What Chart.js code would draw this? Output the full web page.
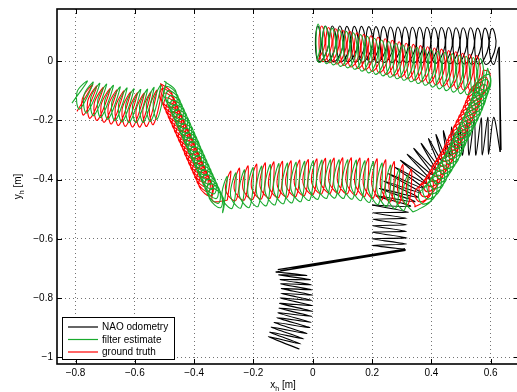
<!DOCTYPE html>
<html>
<head>
<meta charset="utf-8">
<script src="https://cdn.jsdelivr.net/npm/chart.js@4.4.1/dist/chart.umd.min.js"></script>
<style>
  html, body { margin: 0; padding: 0; background: #fff; overflow: hidden; }
  #plot { display: block; }
</style>
</head>
<body>
<canvas id="plot" width="524" height="392" style="width:524px;height:392px"></canvas>
<script>
// axis ticks
const xTicks = [-0.8, -0.6, -0.4, -0.2, 0, 0.2, 0.4, 0.6];
const yTicks = [0, -0.2, -0.4, -0.6, -0.8, -1];
const seriesNames = ['NAO odometry', 'filter estimate', 'ground truth'];
const seriesColors = ['#000000', 'rgb(25,170,45)', 'rgb(255,0,0)'];

// NAO odometry, flat x,y lists per stretch of the walk
const odoBottom = [
  -0.045,-0.972, -0.150,-0.930, -0.040,-0.955, -0.145,-0.915, -0.030,-0.938, -0.140,-0.898,
  -0.020,-0.920, -0.130,-0.882, -0.010,-0.900, -0.122,-0.866, -0.005,-0.882, -0.118,-0.850,
  -0.003,-0.862, -0.115,-0.834, 0.000,-0.845, -0.112,-0.818, 0.000,-0.826, -0.110,-0.800,
  -0.002,-0.808, -0.108,-0.784, 0.000,-0.790, -0.106,-0.768, -0.003,-0.772, -0.108,-0.752,
  -0.005,-0.755, -0.110,-0.738, -0.008,-0.738, -0.115,-0.722, -0.020,-0.724, -0.125,-0.712
];
const odoDrift = [
  -0.125,-0.712, 0.313,-0.639, -0.118,-0.704, 0.311,-0.635, -0.110,-0.708, 0.312,-0.636
];
const odoStep = [
  0.312,-0.636, 0.200,-0.622, 0.316,-0.618, 0.200,-0.600, 0.318,-0.597, 0.201,-0.578,
  0.316,-0.575, 0.202,-0.556, 0.318,-0.553, 0.202,-0.534, 0.318,-0.531, 0.203,-0.512,
  0.322,-0.510, 0.200,-0.486
];
const odoArc = [
  0.200,-0.486, 0.330,-0.490, 0.213,-0.455, 0.345,-0.475, 0.225,-0.430, 0.355,-0.460,
  0.240,-0.405, 0.365,-0.445, 0.255,-0.380, 0.375,-0.430, 0.275,-0.357, 0.385,-0.415,
  0.295,-0.335, 0.395,-0.400, 0.318,-0.315, 0.405,-0.385, 0.340,-0.295, 0.415,-0.370,
  0.365,-0.278, 0.425,-0.355, 0.390,-0.262, 0.437,-0.340, 0.415,-0.248, 0.450,-0.327,
  0.440,-0.235, 0.465,-0.320, 0.468,-0.222, 0.485,-0.318, 0.495,-0.212, 0.505,-0.318,
  0.520,-0.203, 0.527,-0.318, 0.545,-0.197, 0.550,-0.318, 0.568,-0.192, 0.572,-0.317,
  0.590,-0.190, 0.593,-0.315, 0.610,-0.190, 0.632,-0.307
];
const odoSide = [
  0.632,-0.307, 0.629,0.048, 0.635,-0.300, 0.627,0.045
];
const odoTop = [
  0.627,0.045,
  0.609,-0.012, 0.595,0.050, 0.605,0.110, 0.617,0.050,
  0.585,-0.012, 0.571,0.050, 0.581,0.111, 0.593,0.050,
  0.560,-0.011, 0.546,0.050, 0.556,0.111, 0.568,0.050,
  0.536,-0.011, 0.522,0.050, 0.532,0.112, 0.544,0.050,
  0.511,-0.010, 0.497,0.051, 0.507,0.112, 0.519,0.051,
  0.487,-0.010, 0.473,0.051, 0.483,0.112, 0.495,0.051,
  0.462,-0.009, 0.448,0.051, 0.458,0.113, 0.470,0.051,
  0.438,-0.009, 0.424,0.052, 0.434,0.113, 0.446,0.052,
  0.413,-0.008, 0.399,0.052, 0.409,0.113, 0.421,0.052,
  0.389,-0.008, 0.375,0.052, 0.385,0.114, 0.397,0.052,
  0.364,-0.007, 0.350,0.053, 0.360,0.114, 0.372,0.053,
  0.340,-0.007, 0.326,0.053, 0.336,0.114, 0.348,0.053,
  0.315,-0.006, 0.301,0.053, 0.311,0.115, 0.323,0.053,
  0.291,-0.006, 0.277,0.054, 0.287,0.115, 0.299,0.054,
  0.266,-0.005, 0.252,0.054, 0.262,0.115, 0.274,0.054,
  0.242,-0.005, 0.228,0.054, 0.238,0.116, 0.250,0.054,
  0.217,-0.005, 0.203,0.055, 0.213,0.116, 0.225,0.055,
  0.193,-0.004, 0.179,0.055, 0.189,0.116, 0.201,0.055,
  0.168,-0.004, 0.154,0.055, 0.164,0.117, 0.176,0.055,
  0.144,-0.004, 0.130,0.056, 0.140,0.117, 0.152,0.056,
  0.119,-0.003, 0.105,0.056, 0.115,0.117, 0.127,0.056,
  0.095,-0.003, 0.081,0.056, 0.091,0.118, 0.103,0.056,
  0.070,-0.003, 0.056,0.057, 0.066,0.118, 0.078,0.057,
  0.046,-0.003, 0.032,0.057, 0.042,0.118, 0.054,0.057,
  0.021,-0.003, 0.009,0.057, 0.017,0.118, 0.028,0.057,
  0.020,-0.002
];

// filter estimate
const estLeft = [
  -0.812,-0.142, -0.760,-0.068, -0.795,-0.105,
  -0.786,-0.162, -0.740,-0.072, -0.772,-0.117,
  -0.762,-0.175, -0.718,-0.076, -0.749,-0.126,
  -0.738,-0.184, -0.695,-0.079, -0.725,-0.132,
  -0.714,-0.190, -0.672,-0.083, -0.702,-0.137,
  -0.690,-0.196, -0.649,-0.088, -0.678,-0.142,
  -0.666,-0.201, -0.626,-0.092, -0.655,-0.147,
  -0.642,-0.205, -0.603,-0.095, -0.631,-0.150,
  -0.618,-0.207, -0.580,-0.097, -0.608,-0.152,
  -0.594,-0.207, -0.557,-0.096, -0.584,-0.152,
  -0.570,-0.206, -0.535,-0.090, -0.561,-0.148,
  -0.546,-0.203, -0.512,-0.082, -0.538,-0.142,
  -0.524,-0.196, -0.494,-0.072
];
const estDiagL = [
  -0.494,-0.072,
  -0.500,-0.069, -0.462,-0.101, -0.464,-0.151, -0.502,-0.119,
  -0.493,-0.085, -0.455,-0.117, -0.457,-0.167, -0.495,-0.135,
  -0.486,-0.100, -0.448,-0.132, -0.450,-0.182, -0.488,-0.150,
  -0.479,-0.116, -0.441,-0.148, -0.443,-0.198, -0.481,-0.166,
  -0.472,-0.132, -0.434,-0.164, -0.436,-0.214, -0.474,-0.182,
  -0.465,-0.147, -0.427,-0.179, -0.429,-0.229, -0.467,-0.197,
  -0.458,-0.163, -0.420,-0.195, -0.422,-0.245, -0.460,-0.213,
  -0.451,-0.179, -0.413,-0.211, -0.415,-0.261, -0.453,-0.229,
  -0.444,-0.194, -0.406,-0.226, -0.408,-0.276, -0.446,-0.244,
  -0.437,-0.210, -0.399,-0.242, -0.401,-0.292, -0.439,-0.260,
  -0.430,-0.226, -0.392,-0.258, -0.394,-0.308, -0.432,-0.276,
  -0.423,-0.241, -0.385,-0.273, -0.387,-0.323, -0.425,-0.291,
  -0.417,-0.257, -0.379,-0.289, -0.381,-0.339, -0.419,-0.307,
  -0.410,-0.272, -0.372,-0.304, -0.374,-0.354, -0.412,-0.322,
  -0.403,-0.288, -0.365,-0.320, -0.367,-0.370, -0.405,-0.338,
  -0.396,-0.304, -0.358,-0.336, -0.360,-0.386, -0.398,-0.354,
  -0.389,-0.319, -0.351,-0.351, -0.353,-0.401, -0.391,-0.369,
  -0.382,-0.335, -0.344,-0.367, -0.346,-0.417, -0.384,-0.385,
  -0.375,-0.351, -0.337,-0.383, -0.339,-0.433, -0.377,-0.401,
  -0.368,-0.366, -0.330,-0.398, -0.332,-0.448, -0.370,-0.416,
  -0.361,-0.382, -0.323,-0.414, -0.325,-0.464, -0.363,-0.432,
  -0.354,-0.398, -0.316,-0.430, -0.318,-0.480, -0.356,-0.448,
  -0.347,-0.413, -0.309,-0.445, -0.311,-0.495, -0.349,-0.463,
  -0.340,-0.429, -0.302,-0.461, -0.304,-0.511,
  -0.300,-0.497
];
const estMid = [
  -0.300,-0.497, -0.288,-0.390, -0.306,-0.460,
  -0.271,-0.496, -0.259,-0.378, -0.277,-0.455,
  -0.242,-0.495, -0.230,-0.368, -0.248,-0.451,
  -0.213,-0.493, -0.201,-0.360, -0.219,-0.447,
  -0.184,-0.490, -0.172,-0.355, -0.190,-0.443,
  -0.155,-0.487, -0.143,-0.350, -0.161,-0.439,
  -0.126,-0.484, -0.114,-0.347, -0.132,-0.436,
  -0.097,-0.480, -0.085,-0.345, -0.103,-0.433,
  -0.068,-0.477, -0.056,-0.342, -0.074,-0.430,
  -0.039,-0.473, -0.027,-0.339, -0.045,-0.426,
  -0.010,-0.469, 0.002,-0.337, -0.016,-0.423,
  0.019,-0.465, 0.031,-0.335, 0.013,-0.420,
  0.048,-0.462, 0.060,-0.334, 0.042,-0.417,
  0.077,-0.461, 0.089,-0.334, 0.071,-0.417,
  0.106,-0.462, 0.118,-0.334, 0.100,-0.417,
  0.135,-0.465, 0.147,-0.335, 0.129,-0.420,
  0.164,-0.470, 0.176,-0.337, 0.158,-0.423,
  0.193,-0.476, 0.205,-0.340, 0.187,-0.428,
  0.222,-0.483, 0.234,-0.345, 0.216,-0.435,
  0.251,-0.490, 0.263,-0.352, 0.245,-0.442,
  0.280,-0.497, 0.292,-0.365, 0.274,-0.451,
  0.309,-0.503, 0.321,-0.385, 0.303,-0.462,
  0.338,-0.510
];
const estDiagR = [
  0.338,-0.510,
  0.358,-0.500, 0.399,-0.471, 0.398,-0.420, 0.357,-0.449,
  0.373,-0.483, 0.414,-0.454, 0.413,-0.403, 0.372,-0.432,
  0.387,-0.466, 0.428,-0.437, 0.427,-0.386, 0.386,-0.415,
  0.398,-0.449, 0.439,-0.420, 0.438,-0.369, 0.397,-0.398,
  0.408,-0.432, 0.449,-0.403, 0.448,-0.352, 0.407,-0.381,
  0.417,-0.415, 0.458,-0.386, 0.457,-0.335, 0.416,-0.364,
  0.428,-0.398, 0.469,-0.369, 0.468,-0.318, 0.427,-0.347,
  0.438,-0.381, 0.479,-0.352, 0.478,-0.301, 0.437,-0.330,
  0.449,-0.364, 0.490,-0.335, 0.489,-0.284, 0.448,-0.313,
  0.458,-0.347, 0.499,-0.318, 0.498,-0.267, 0.457,-0.296,
  0.465,-0.330, 0.506,-0.301, 0.505,-0.250, 0.464,-0.279,
  0.473,-0.313, 0.514,-0.284, 0.513,-0.233, 0.472,-0.262,
  0.481,-0.296, 0.522,-0.267, 0.521,-0.216, 0.480,-0.245,
  0.490,-0.279, 0.531,-0.250, 0.530,-0.199, 0.489,-0.228,
  0.498,-0.262, 0.539,-0.233, 0.538,-0.182, 0.497,-0.211,
  0.507,-0.245, 0.548,-0.216, 0.547,-0.165, 0.506,-0.194,
  0.515,-0.228, 0.556,-0.199, 0.555,-0.148, 0.514,-0.177,
  0.523,-0.211, 0.564,-0.182, 0.563,-0.131, 0.522,-0.160,
  0.530,-0.194, 0.571,-0.165, 0.570,-0.114, 0.529,-0.143,
  0.537,-0.177, 0.578,-0.148, 0.577,-0.097, 0.536,-0.126,
  0.542,-0.160, 0.583,-0.131, 0.582,-0.080, 0.541,-0.109,
  0.548,-0.143, 0.589,-0.114, 0.588,-0.063, 0.547,-0.092,
  0.554,-0.126, 0.595,-0.097, 0.594,-0.046, 0.553,-0.075,
  0.557,-0.110, 0.598,-0.081, 0.590,-0.025,
  0.588,-0.030
];
const estTop = [
  0.588,-0.030,
  0.569,-0.120, 0.556,-0.056, 0.565,0.008, 0.576,-0.056,
  0.545,-0.118, 0.532,-0.053, 0.541,0.012, 0.552,-0.053,
  0.521,-0.114, 0.508,-0.049, 0.517,0.016, 0.528,-0.049,
  0.498,-0.110, 0.485,-0.045, 0.494,0.020, 0.505,-0.045,
  0.474,-0.105, 0.461,-0.040, 0.470,0.025, 0.481,-0.040,
  0.450,-0.100, 0.437,-0.035, 0.446,0.030, 0.457,-0.035,
  0.426,-0.094, 0.413,-0.030, 0.422,0.034, 0.433,-0.030,
  0.403,-0.088, 0.390,-0.025, 0.399,0.038, 0.410,-0.025,
  0.379,-0.082, 0.366,-0.020, 0.375,0.042, 0.386,-0.020,
  0.355,-0.076, 0.342,-0.015, 0.351,0.046, 0.362,-0.015,
  0.331,-0.070, 0.318,-0.010, 0.327,0.050, 0.338,-0.010,
  0.307,-0.065, 0.294,-0.005, 0.303,0.055, 0.314,-0.005,
  0.284,-0.060, 0.271,0.000, 0.280,0.060, 0.291,0.000,
  0.260,-0.055, 0.247,0.006, 0.256,0.066, 0.267,0.006,
  0.236,-0.050, 0.223,0.011, 0.232,0.071, 0.243,0.011,
  0.212,-0.045, 0.199,0.016, 0.208,0.077, 0.219,0.016,
  0.188,-0.040, 0.175,0.022, 0.184,0.083, 0.195,0.022,
  0.165,-0.034, 0.152,0.028, 0.161,0.089, 0.172,0.028,
  0.141,-0.028, 0.128,0.034, 0.137,0.095, 0.148,0.034,
  0.117,-0.023, 0.104,0.039, 0.113,0.100, 0.124,0.039,
  0.093,-0.018, 0.080,0.044, 0.089,0.106, 0.100,0.044,
  0.069,-0.013, 0.056,0.049, 0.065,0.111, 0.076,0.049,
  0.046,-0.009, 0.033,0.054, 0.042,0.117, 0.053,0.054,
  0.022,-0.005, 0.011,0.060, 0.018,0.125, 0.027,0.060,
  0.014,0.000
];

// ground truth
const gtLeft = [
  -0.795,-0.170, -0.742,-0.080, -0.777,-0.128,
  -0.772,-0.182, -0.728,-0.085, -0.759,-0.136,
  -0.750,-0.193, -0.706,-0.090, -0.737,-0.144,
  -0.726,-0.200, -0.683,-0.094, -0.714,-0.150,
  -0.702,-0.206, -0.660,-0.098, -0.690,-0.155,
  -0.678,-0.212, -0.637,-0.102, -0.666,-0.160,
  -0.654,-0.217, -0.614,-0.106, -0.643,-0.164,
  -0.630,-0.220, -0.591,-0.108, -0.619,-0.167,
  -0.606,-0.222, -0.568,-0.109, -0.596,-0.168,
  -0.582,-0.222, -0.546,-0.106, -0.573,-0.167,
  -0.559,-0.220, -0.525,-0.099, -0.551,-0.162,
  -0.537,-0.214, -0.505,-0.090
];
const gtDiagL = [
  -0.505,-0.090,
  -0.513,-0.077, -0.475,-0.109, -0.477,-0.159, -0.515,-0.127,
  -0.506,-0.093, -0.468,-0.125, -0.470,-0.175, -0.508,-0.143,
  -0.499,-0.108, -0.461,-0.140, -0.463,-0.190, -0.501,-0.158,
  -0.492,-0.124, -0.454,-0.156, -0.456,-0.206, -0.494,-0.174,
  -0.485,-0.140, -0.447,-0.172, -0.449,-0.222, -0.487,-0.190,
  -0.478,-0.155, -0.440,-0.187, -0.442,-0.237, -0.480,-0.205,
  -0.471,-0.171, -0.433,-0.203, -0.435,-0.253, -0.473,-0.221,
  -0.464,-0.187, -0.426,-0.219, -0.428,-0.269, -0.466,-0.237,
  -0.457,-0.202, -0.419,-0.234, -0.421,-0.284, -0.459,-0.252,
  -0.450,-0.218, -0.412,-0.250, -0.414,-0.300, -0.452,-0.268,
  -0.443,-0.234, -0.405,-0.266, -0.407,-0.316, -0.445,-0.284,
  -0.436,-0.249, -0.398,-0.281, -0.400,-0.331, -0.438,-0.299,
  -0.430,-0.265, -0.392,-0.297, -0.394,-0.347, -0.432,-0.315,
  -0.423,-0.280, -0.385,-0.312, -0.387,-0.362, -0.425,-0.330,
  -0.416,-0.296, -0.378,-0.328, -0.380,-0.378, -0.418,-0.346,
  -0.409,-0.312, -0.371,-0.344, -0.373,-0.394, -0.411,-0.362,
  -0.402,-0.327, -0.364,-0.359, -0.366,-0.409, -0.404,-0.377,
  -0.395,-0.343, -0.357,-0.375, -0.359,-0.425, -0.397,-0.393,
  -0.388,-0.359, -0.350,-0.391, -0.352,-0.441, -0.390,-0.409,
  -0.381,-0.374, -0.343,-0.406, -0.345,-0.456, -0.383,-0.424,
  -0.374,-0.390, -0.336,-0.422, -0.338,-0.472,
  -0.288,-0.470
];
const gtMid = [
  -0.288,-0.470, -0.276,-0.372, -0.294,-0.436,
  -0.259,-0.470, -0.247,-0.362, -0.265,-0.432,
  -0.230,-0.468, -0.218,-0.354, -0.236,-0.428,
  -0.201,-0.466, -0.189,-0.348, -0.207,-0.425,
  -0.172,-0.464, -0.160,-0.344, -0.178,-0.422,
  -0.143,-0.462, -0.131,-0.341, -0.149,-0.420,
  -0.114,-0.460, -0.102,-0.339, -0.120,-0.418,
  -0.085,-0.458, -0.073,-0.337, -0.091,-0.416,
  -0.056,-0.456, -0.044,-0.335, -0.062,-0.414,
  -0.027,-0.453, -0.015,-0.333, -0.033,-0.411,
  0.002,-0.450, 0.014,-0.331, -0.004,-0.408,
  0.031,-0.447, 0.043,-0.329, 0.025,-0.406,
  0.060,-0.445, 0.072,-0.328, 0.054,-0.404,
  0.089,-0.445, 0.101,-0.327, 0.083,-0.404,
  0.118,-0.447, 0.130,-0.327, 0.112,-0.405,
  0.147,-0.451, 0.159,-0.328, 0.141,-0.408,
  0.176,-0.456, 0.188,-0.329, 0.170,-0.412,
  0.205,-0.462, 0.217,-0.331, 0.199,-0.416,
  0.234,-0.468, 0.246,-0.334, 0.228,-0.421,
  0.263,-0.474, 0.275,-0.340, 0.257,-0.427,
  0.292,-0.480, 0.304,-0.350, 0.286,-0.434,
  0.321,-0.484, 0.333,-0.365, 0.315,-0.442,
  0.345,-0.485
];
const gtDiagR = [
  0.345,-0.485,
  0.345,-0.492, 0.386,-0.463, 0.385,-0.412, 0.344,-0.441,
  0.360,-0.475, 0.401,-0.446, 0.400,-0.395, 0.359,-0.424,
  0.374,-0.458, 0.415,-0.429, 0.414,-0.378, 0.373,-0.407,
  0.385,-0.441, 0.426,-0.412, 0.425,-0.361, 0.384,-0.390,
  0.395,-0.424, 0.436,-0.395, 0.435,-0.344, 0.394,-0.373,
  0.404,-0.407, 0.445,-0.378, 0.444,-0.327, 0.403,-0.356,
  0.415,-0.390, 0.456,-0.361, 0.455,-0.310, 0.414,-0.339,
  0.425,-0.373, 0.466,-0.344, 0.465,-0.293, 0.424,-0.322,
  0.436,-0.356, 0.477,-0.327, 0.476,-0.276, 0.435,-0.305,
  0.445,-0.339, 0.486,-0.310, 0.485,-0.259, 0.444,-0.288,
  0.452,-0.322, 0.493,-0.293, 0.492,-0.242, 0.451,-0.271,
  0.460,-0.305, 0.501,-0.276, 0.500,-0.225, 0.459,-0.254,
  0.468,-0.288, 0.509,-0.259, 0.508,-0.208, 0.467,-0.237,
  0.477,-0.271, 0.518,-0.242, 0.517,-0.191, 0.476,-0.220,
  0.485,-0.254, 0.526,-0.225, 0.525,-0.174, 0.484,-0.203,
  0.494,-0.237, 0.535,-0.208, 0.534,-0.157, 0.493,-0.186,
  0.502,-0.220, 0.543,-0.191, 0.542,-0.140, 0.501,-0.169,
  0.510,-0.203, 0.551,-0.174, 0.550,-0.123, 0.509,-0.152,
  0.517,-0.186, 0.558,-0.157, 0.557,-0.106, 0.516,-0.135,
  0.524,-0.169, 0.565,-0.140, 0.564,-0.089, 0.523,-0.118,
  0.529,-0.152, 0.570,-0.123, 0.569,-0.072, 0.528,-0.101,
  0.535,-0.135, 0.580,-0.106, 0.585,-0.055, 0.545,-0.084,
  0.550,-0.118, 0.592,-0.090, 0.596,-0.038,
  0.575,-0.030
];
const gtTop = [
  0.575,-0.030,
  0.557,-0.105, 0.544,-0.044, 0.553,0.018, 0.564,-0.044,
  0.533,-0.102, 0.520,-0.040, 0.529,0.022, 0.540,-0.040,
  0.509,-0.098, 0.496,-0.036, 0.505,0.026, 0.516,-0.036,
  0.486,-0.094, 0.473,-0.032, 0.482,0.031, 0.493,-0.032,
  0.462,-0.090, 0.449,-0.028, 0.458,0.035, 0.469,-0.028,
  0.438,-0.085, 0.425,-0.023, 0.434,0.040, 0.445,-0.023,
  0.414,-0.080, 0.401,-0.018, 0.410,0.044, 0.421,-0.018,
  0.391,-0.075, 0.378,-0.014, 0.387,0.048, 0.398,-0.014,
  0.367,-0.070, 0.354,-0.009, 0.363,0.052, 0.374,-0.009,
  0.343,-0.065, 0.330,-0.005, 0.339,0.056, 0.350,-0.005,
  0.319,-0.060, 0.306,0.000, 0.315,0.060, 0.326,0.000,
  0.295,-0.055, 0.282,0.005, 0.291,0.065, 0.302,0.005,
  0.272,-0.050, 0.259,0.010, 0.268,0.070, 0.279,0.010,
  0.248,-0.045, 0.235,0.015, 0.244,0.075, 0.255,0.015,
  0.224,-0.040, 0.211,0.020, 0.220,0.080, 0.231,0.020,
  0.200,-0.035, 0.187,0.025, 0.196,0.085, 0.207,0.025,
  0.176,-0.030, 0.163,0.030, 0.172,0.090, 0.183,0.030,
  0.153,-0.025, 0.140,0.035, 0.149,0.095, 0.160,0.035,
  0.129,-0.020, 0.116,0.040, 0.125,0.100, 0.136,0.040,
  0.105,-0.015, 0.092,0.045, 0.101,0.104, 0.112,0.045,
  0.081,-0.010, 0.068,0.050, 0.077,0.109, 0.088,0.050,
  0.057,-0.006, 0.044,0.054, 0.053,0.113, 0.064,0.054,
  0.034,-0.002, 0.021,0.058, 0.030,0.118, 0.041,0.058,
  0.020,0.005
];

const X_MIN = -0.8624, X_MAX = 0.6954;
const Y_MIN = -1.0226, Y_MAX = 0.1755;
const FONT = "'Liberation Sans', Arial, Helvetica, sans-serif";

function toPoints(flat) {
  const pts = [];
  for (let i = 0; i < flat.length; i += 2) pts.push({ x: flat[i], y: flat[i + 1] });
  return pts;
}

function trace(flat, color, order, tension) {
  return {
    data: toPoints(flat),
    showLine: true,
    borderColor: color,
    borderWidth: 1.1,
    pointRadius: 0,
    fill: false,
    tension: tension,
    order: order
  };
}

function tickText(v) {
  if (v === 0) return '0';
  return (v < 0 ? '\u2212' : '') + String(Math.abs(v));
}

// box, inward ticks, legend and axis titles (matlab style)
const matlabFrame = {
  id: 'matlabFrame',
  afterDraw(chart) {
    const { ctx, chartArea: a, scales } = chart;
    ctx.save();
    ctx.strokeStyle = '#000';
    ctx.lineWidth = 1;
    ctx.beginPath();
    xTicks.forEach(v => {
      const px = Math.round(scales.x.getPixelForValue(v)) + 0.5;
      ctx.moveTo(px, a.bottom); ctx.lineTo(px, a.bottom - 5);
      ctx.moveTo(px, a.top); ctx.lineTo(px, a.top + 5);
    });
    yTicks.forEach(v => {
      const py = Math.round(scales.y.getPixelForValue(v)) + 0.5;
      ctx.moveTo(a.left, py); ctx.lineTo(a.left + 5, py);
      ctx.moveTo(a.right, py); ctx.lineTo(a.right - 5, py);
    });
    ctx.stroke();

    ctx.lineWidth = 1.6;
    ctx.strokeRect(a.left, a.top, a.right - a.left, a.bottom - a.top);

    // legend
    const lx = a.left + 5, lw = 112, lh = 42, ly = a.bottom - 5 - lh;
    ctx.fillStyle = '#fff';
    ctx.fillRect(lx, ly, lw, lh);
    ctx.lineWidth = 1;
    ctx.strokeRect(lx + 0.5, ly + 0.5, lw, lh);
    ctx.font = '10px ' + FONT;
    ctx.textBaseline = 'middle';
    seriesNames.forEach((name, i) => {
      const ry = ly + 10 + i * 12.5;
      ctx.strokeStyle = seriesColors[i];
      ctx.lineWidth = 1.2;
      ctx.beginPath();
      ctx.moveTo(lx + 6, ry); ctx.lineTo(lx + 36, ry);
      ctx.stroke();
      ctx.fillStyle = '#000';
      ctx.textAlign = 'left';
      ctx.fillText(name, lx + 40, ry + 0.5);
    });

    // axis titles with subscript
    const drawTitle = (cx, cy, main) => {
      ctx.font = '10px ' + FONT;
      const w1 = ctx.measureText(main).width;
      ctx.font = '7px ' + FONT;
      const w2 = ctx.measureText('h').width;
      ctx.font = '10px ' + FONT;
      const w3 = ctx.measureText(' [m]').width;
      let x0 = cx - (w1 + w2 + w3) / 2;
      ctx.textAlign = 'left';
      ctx.textBaseline = 'alphabetic';
      ctx.fillStyle = '#000';
      ctx.fillText(main, x0, cy);
      ctx.font = '7px ' + FONT;
      ctx.fillText('h', x0 + w1, cy + 3);
      ctx.font = '10px ' + FONT;
      ctx.fillText(' [m]', x0 + w1 + w2, cy);
    };
    drawTitle((a.left + a.right) / 2 - 5, 388, 'x');
    ctx.save();
    ctx.translate(21, (a.top + a.bottom) / 2);
    ctx.rotate(-Math.PI / 2);
    drawTitle(0, 0, 'y');
    ctx.restore();
    ctx.restore();
  }
};

const gridStyle = { color: 'rgba(0,0,0,0.55)', lineWidth: 1, drawTicks: false };

new Chart(document.getElementById('plot'), {
  type: 'scatter',
  data: {
    datasets: [
      trace(odoBottom, seriesColors[0], 2, 0.2),
      trace(odoDrift, seriesColors[0], 2, 0),
      trace(odoStep, seriesColors[0], 2, 0.15),
      trace(odoArc, seriesColors[0], 2, 0.3),
      trace(odoSide, seriesColors[0], 2, 0),
      trace(odoTop, seriesColors[0], 2, 0.45),
      trace(gtLeft, seriesColors[2], 1, 0.4),
      trace(gtDiagL, seriesColors[2], 1, 0.4),
      trace(gtMid, seriesColors[2], 1, 0.4),
      trace(gtDiagR, seriesColors[2], 1, 0.4),
      trace(gtTop, seriesColors[2], 1, 0.45),
      trace(estLeft, seriesColors[1], 0, 0.4),
      trace(estDiagL, seriesColors[1], 0, 0.4),
      trace(estMid, seriesColors[1], 0, 0.4),
      trace(estDiagR, seriesColors[1], 0, 0.4),
      trace(estTop, seriesColors[1], 0, 0.45)
    ]
  },
  options: {
    responsive: false,
    animation: false,
    devicePixelRatio: 1,
    events: [],
    layout: { padding: { top: 9, right: 5, bottom: 0, left: 0 } },
    plugins: { legend: { display: false }, tooltip: { enabled: false } },
    scales: {
      x: {
        type: 'linear', min: X_MIN, max: X_MAX,
        afterBuildTicks: s => { s.ticks = xTicks.map(v => ({ value: v })); },
        afterFit: s => { s.height = 28; s.paddingLeft = 0; s.paddingRight = 0; },
        grid: gridStyle,
        border: { display: false, dash: [1, 3] },
        ticks: { padding: 3, color: '#000', font: { family: FONT, size: 10 }, maxRotation: 0, autoSkip: false, callback: v => tickText(v) }
      },
      y: {
        type: 'linear', min: Y_MIN, max: Y_MAX,
        afterBuildTicks: s => { s.ticks = yTicks.map(v => ({ value: v })); },
        afterFit: s => { s.width = 57; s.paddingTop = 0; s.paddingBottom = 0; },
        grid: gridStyle,
        border: { display: false, dash: [1, 3] },
        ticks: { padding: 4, color: '#000', font: { family: FONT, size: 10 }, autoSkip: false, callback: v => tickText(v) }
      }
    }
  },
  plugins: [matlabFrame]
});
</script>
</body>
</html>
